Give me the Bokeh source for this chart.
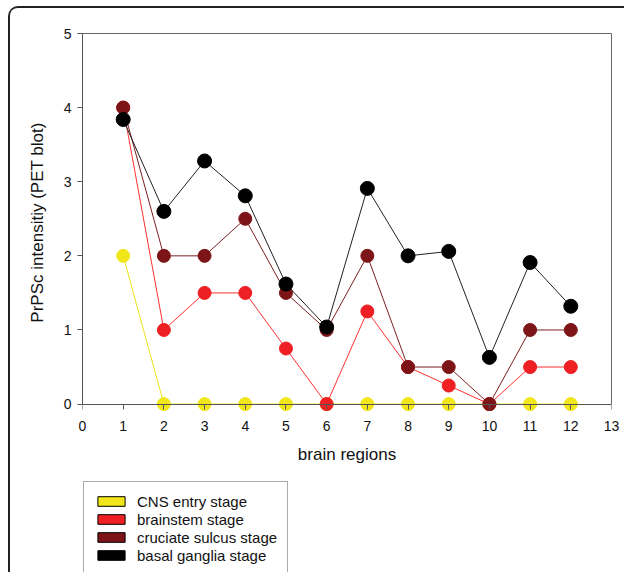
from bokeh.plotting import figure
from bokeh.layouts import column
from bokeh.models import Range1d, FixedTicker, LinearAxis, Legend, LegendItem
from bokeh.embed import file_html
from bokeh.resources import INLINE

# ---- data ----
regions = [1, 2, 3, 4, 5, 6, 7, 8, 9, 10, 11, 12]
cns_entry = [2, 0, 0, 0, 0, 0, 0, 0, 0, 0, 0, 0]
brainstem = [4, 1, 1.5, 1.5, 0.75, 0, 1.25, 0.5, 0.25, 0, 0.5, 0.5]
cruciate_sulcus = [4, 2, 2, 2.5, 1.5, 1, 2, 0.5, 0.5, 0, 1, 1]
basal_ganglia = [3.84, 2.6, 3.28, 2.81, 1.62, 1.04, 2.91, 2.0, 2.06, 0.63, 1.91, 1.32]
series_names = ["CNS entry stage", "brainstem stage", "cruciate sulcus stage", "basal ganglia stage"]
x_ticks = [0, 1, 2, 3, 4, 5, 6, 7, 8, 9, 10, 11, 12, 13]
y_ticks = [0, 1, 2, 3, 4, 5]

# ---- styles / layout ----
marker_colors = ["#f0e61a", "#ee2024", "#7d1518", "#000000"]
line_colors = ["#ece41a", "#ff3030", "#7d2020", "#222222"]
marker_sizes = [13, 13, 13, 14]
FONT = "Liberation Sans"
W = 614
Y_START = -0.1   # small room below the zero line so the markers there are not cut
NAN = float("nan")

p = figure(width=W, height=462,
           x_range=Range1d(0, 13), y_range=Range1d(Y_START, 5),
           output_backend="svg", toolbar_location=None,
           min_border_left=72, min_border_right=13,
           min_border_top=25, min_border_bottom=59,
           y_axis_label="PrPSc intensitiy (PET blot)")
p.grid.visible = False
p.outline_line_color = None
p.background_fill_color = "white"
p.border_fill_color = "white"

# axis line and ticks drawn at y = 0
ax = p.xaxis[0]
ax.fixed_location = 0
ax.bounds = (0, 13)
ax.ticker = FixedTicker(ticks=x_ticks)
ax.major_label_text_color = None
ax.major_label_text_font_size = "1px"
# tick labels and title below
ax2 = LinearAxis(ticker=FixedTicker(ticks=x_ticks), axis_label="brain regions")
ax2.axis_line_color = None
ax2.major_tick_line_color = None
ax2.minor_tick_line_color = None
ax2.major_tick_in = 0
ax2.major_tick_out = 0
p.add_layout(ax2, "below")

ay = p.yaxis[0]
ay.bounds = (0, 5)
ay.ticker = FixedTicker(ticks=y_ticks)
for a in (ax, ay):
    a.minor_tick_line_color = None
    a.major_tick_in = 0
    a.major_tick_out = 5
    a.axis_line_color = "#555555"
    a.major_tick_line_color = "#555555"
for a in (ax2, ay):
    a.major_label_text_font = FONT
    a.major_label_text_font_size = "14px"
    a.major_label_text_color = "#111111"
    a.axis_label_text_font = FONT
    a.axis_label_text_font_style = "normal"
    a.axis_label_text_color = "#111111"
    a.axis_label_text_font_size = "17px"
ay.major_label_standoff = 6
ay.axis_label_standoff = 14
ax2.major_label_standoff = 9
ax2.axis_label_standoff = 11

top_axis = LinearAxis(ticker=FixedTicker(ticks=[]), axis_line_color="#666666",
                      major_tick_line_color=None, minor_tick_line_color=None)
p.add_layout(top_axis, "above")
right_axis = LinearAxis(ticker=FixedTicker(ticks=[]), axis_line_color="#666666",
                        major_tick_line_color=None, minor_tick_line_color=None, bounds=(0, 5))
p.add_layout(right_axis, "right")

all_series = [cns_entry, brainstem, cruciate_sulcus, basal_ganglia]
for vals, mc, lc, ms in zip(all_series, marker_colors, line_colors, marker_sizes):
    p.line(regions, vals, line_color=lc, line_width=1)
    p.scatter(regions, vals, size=ms, fill_color=mc, line_color=mc)

# ---- legend panel ----
pl = figure(width=W, height=102, x_range=Range1d(0, 1), y_range=Range1d(0, 1),
            output_backend="svg", toolbar_location=None, min_border=0,
            x_axis_location=None, y_axis_location=None)
pl.grid.visible = False
pl.outline_line_color = None
pl.background_fill_color = "white"
pl.border_fill_color = "white"

items = []
for name, mc in zip(series_names, marker_colors):
    r = pl.quad(left=[NAN], right=[NAN], top=[NAN], bottom=[NAN],
                fill_color=mc, line_color="black", line_width=1)
    items.append(LegendItem(label=name, renderers=[r]))

legend = Legend(items=items, location=(1, -3), glyph_width=34, glyph_height=12,
                label_height=18, spacing=0, padding=10, margin=0, label_standoff=9,
                label_text_font=FONT, label_text_font_size="15px", label_text_color="#111111",
                border_line_color="#555555", border_line_width=1,
                background_fill_color="white", background_fill_alpha=1)
pl.add_layout(legend, "center")

layout = column(p, pl, spacing=0,
                styles={"margin-left": "8px", "margin-top": "6px",
                        "border-top": "2px solid #222", "border-left": "2px solid #222",
                        "border-right": "0px none", "border-bottom": "0px none",
                        "border-top-left-radius": "10px", "border-top-right-radius": "0px",
                        "overflow": "hidden"})

open("out.html", "w").write(file_html(layout, INLINE))
